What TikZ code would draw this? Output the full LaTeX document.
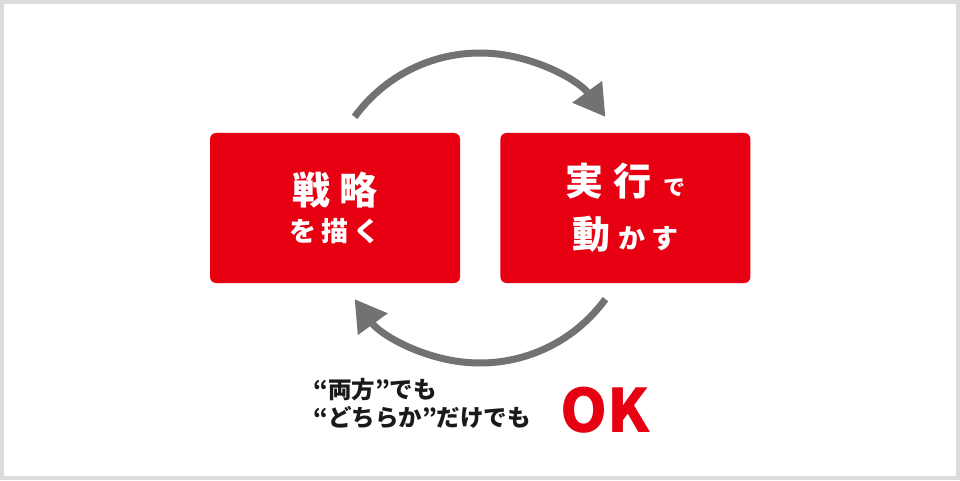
\documentclass[tikz,border=0pt]{standalone}
\usepackage{fontspec}
\newfontfamily\jpfont{Noto Sans CJK JP}
\usetikzlibrary{arrows.meta,positioning}
\definecolor{boxred}{HTML}{E60012}
\definecolor{arrowgray}{HTML}{727272}
\definecolor{framegray}{HTML}{DCDCDC}
\definecolor{textblack}{HTML}{1A1A1A}

\begin{document}
\begin{tikzpicture}[
    x=1pt, y=1pt,
    redbox/.style={
    rectangle,
    fill=boxred,
    rounded corners=6pt,
    minimum width=250pt,
    minimum height=150pt,
    inner sep=0pt,
    text=white,
    align=center,
    font=\jpfont\bfseries},
    cyclearrow/.style={-{Triangle[length=31pt,width=35pt]},draw=arrowgray,line width=7pt},
    node distance=0.8 cm and 1.6cm
    ]
    \useasboundingbox (0,0) rectangle (960,480);
    \fill[framegray] (0,0) rectangle (960,480);
    \fill[white] (4,4) rectangle (956,476);

    \node[redbox] (plan) at (335,272) {%
      {\fontsize{38}{40}\selectfont 戦\hspace{10pt}略}\\[9pt]
      {\fontsize{27}{30}\selectfont を\hspace{5pt}描\hspace{5pt}く}};
    \node[redbox, right=40pt of plan] (act) {%
      {\fontsize{38}{40}\selectfont 実\hspace{10pt}行\hspace{12pt}{\fontsize{22}{24}\selectfont で}}\\[16pt]
      {\fontsize{38}{40}\selectfont 動\hspace{8pt}{\fontsize{27}{30}\selectfont か\hspace{6pt}す}}};

    % cycle arrows
    \coordinate (hub) at (480,272);
    \coordinate (t1) at ([shift={(144:155)}]hub);
    \coordinate (t2) at ([shift={(-36:155)}]hub);
    \draw[cyclearrow] (t1) arc[start angle=144, end angle=36, radius=155];
    \draw[cyclearrow] (t2) arc[start angle=-36, end angle=-144, radius=155];

    \node[anchor=west, align=left, text=textblack, inner sep=0pt,
      font=\jpfont\bfseries\fontsize{23.5}{28}\selectfont] (note) at (313,76)
      {“両方”でも\\“どちらか”だけでも};
    \node[text=boxred, inner sep=0pt, font=\jpfont\bfseries\fontsize{60}{60}\selectfont]
      (ok) at (605,70) {OK};
\end{tikzpicture}
\end{document}
